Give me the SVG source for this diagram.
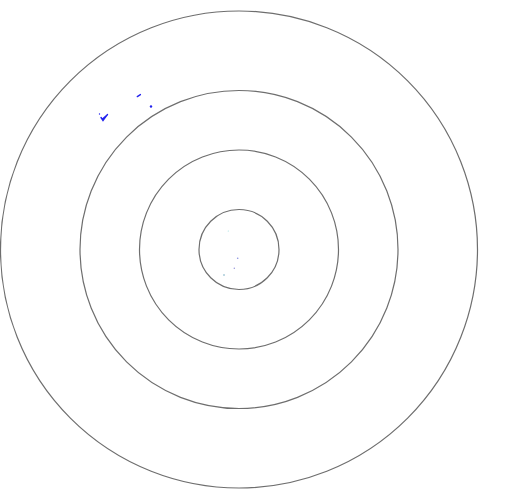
<svg xmlns="http://www.w3.org/2000/svg" width="515" height="496" viewBox="0 0 515 496">
<style>
.ring{fill:none;stroke:#6e6e6e;stroke-width:1.2}
.mark{fill:none;stroke:#2222ee;stroke-width:1.4;stroke-linecap:round}
</style>
<rect width="515" height="496" fill="#ffffff"/>
<g id="rings">
<circle id="ring4" class="ring" cx="239" cy="249.5" r="238.5"/>
<circle id="ring3" class="ring" cx="239" cy="249.5" r="159"/>
<circle id="ring2" class="ring" cx="239" cy="249.5" r="99.5"/>
<circle id="ring1" class="ring" cx="239" cy="249.5" r="40"/>
</g>
<g id="marks">
<path class="mark" d="M137.3 96.6 L140.4 94.6"/>
<circle cx="151" cy="106.5" r="1.2" fill="#2222ee"/>
<path class="mark" d="M101 117.5 L103 120.5 L105.5 117 L107.5 114.5 M103 118.5 L106.5 115.5"/>
<circle cx="99.5" cy="114" r="0.7" fill="#2222ee"/>
<circle cx="228.3" cy="231" r="0.6" fill="#9fe0e0"/>
<circle cx="237.7" cy="258.3" r="0.8" fill="#8890e0"/>
<circle cx="234.3" cy="268.3" r="0.7" fill="#9090d8"/>
<circle cx="224" cy="275" r="0.8" fill="#70a8c0"/>
</g>
</svg>
